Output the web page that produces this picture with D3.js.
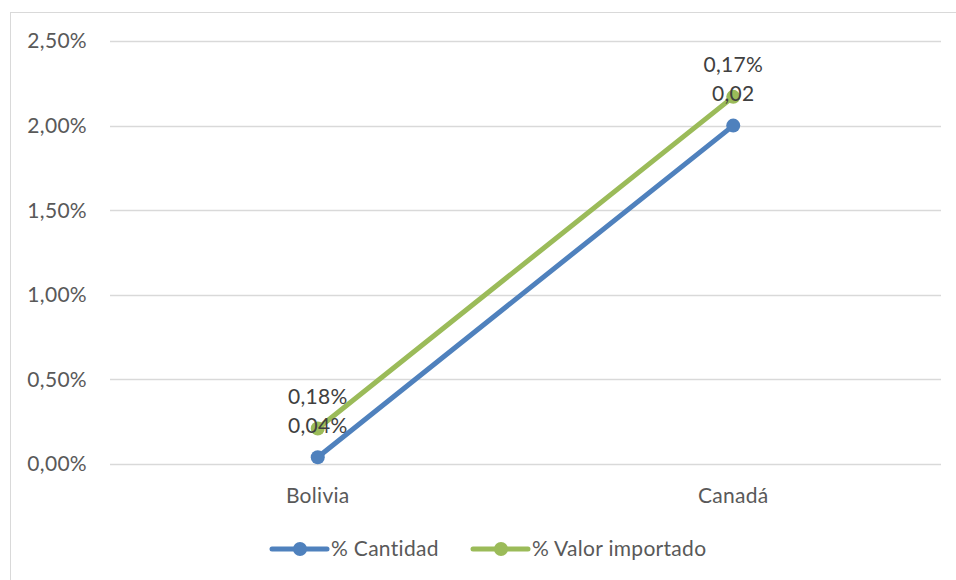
<html>
<head>
<meta charset="utf-8">
<script src="https://d3js.org/d3.v7.min.js"></script>
<style>
  body { margin: 0; background: #fff; }
  text { font-family: Lato, "Open Sans", sans-serif; letter-spacing: 0.3px; }
</style>
</head>
<body>
<script>
    // data
    let categories = ["Bolivia", "Canadá"];
    let seriesNames = ["% Cantidad", "% Valor importado"];
    let cantidad = [0.04, 2.00];
    let valorImportado = [0.21, 2.17];
    // the labels shown on the chart (as printed, they don't match the values)
    let labelsCantidad = ["0,04%", "0,02"];
    let labelsValor = ["0,18%", "0,17%"];
    let yTicks = [0, 0.5, 1.0, 1.5, 2.0, 2.5];

    let colors = ["#4f81bd", "#9bbb59"];

    let width = 956, height = 580;
    let plotLeft = 110, plotRight = 941, plotTop = 41, plotBottom = 464;

    let svg = d3.select("body").append("svg")
        .attr("width", width)
        .attr("height", height);

    // chart border
    svg.append("rect")
        .attr("x", 10.5)
        .attr("y", 12.5)
        .attr("width", 960)
        .attr("height", 600)
        .attr("fill", "none")
        .attr("stroke", "#d9d9d9");

    let x = d3.scalePoint()
        .domain(categories)
        .range([plotLeft, plotRight])
        .padding(0.5);

    let y = d3.scaleLinear()
        .domain([0, 2.5])
        .range([plotBottom, plotTop]);

    let fmt = v => v.toFixed(2).replace(".", ",") + "%";

    // gridlines + y labels
    yTicks.forEach(t => {
        svg.append("line")
            .attr("x1", plotLeft)
            .attr("x2", plotRight)
            .attr("y1", Math.round(y(t)) + 0.5)
            .attr("y2", Math.round(y(t)) + 0.5)
            .attr("stroke", "#d9d9d9")
            .attr("stroke-width", 1.3);
        svg.append("text")
            .attr("x", 87)
            .attr("y", y(t))
            .attr("dy", "0.35em")
            .attr("text-anchor", "end")
            .attr("fill", "#595959")
            .style("font-size", "21px")
            .text(fmt(t));
    });

    // x labels
    categories.forEach(c => {
        svg.append("text")
            .attr("x", x(c))
            .attr("y", 496)
            .attr("dy", "0.35em")
            .attr("text-anchor", "middle")
            .attr("fill", "#595959")
            .style("font-size", "21px")
            .text(c);
    });

    let line = d3.line()
        .x((d, i) => x(categories[i]))
        .y(d => y(d));

    let allSeries = [cantidad, valorImportado];
    allSeries.forEach((s, k) => {
        svg.append("path")
            .datum(s)
            .attr("d", line)
            .attr("fill", "none")
            .attr("stroke", colors[k])
            .attr("stroke-width", 5)
            .attr("stroke-linecap", "round");
        s.forEach((v, i) => {
            svg.append("circle")
                .attr("cx", x(categories[i]))
                .attr("cy", y(v))
                .attr("r", 7)
                .attr("fill", colors[k]);
        });
    });

    // data labels, placed above their point
    let allLabels = [labelsCantidad, labelsValor];
    allSeries.forEach((s, k) => {
        s.forEach((v, i) => {
            svg.append("text")
                .attr("x", x(categories[i]))
                .attr("y", y(v) - 32)
                .attr("dy", "0.35em")
                .attr("text-anchor", "middle")
                .attr("fill", "#404040")
                .style("font-size", "21px")
                .text(allLabels[k][i]);
        });
    });

    // legend
    let legendX = [272, 473];
    seriesNames.forEach((n, k) => {
        let g = svg.append("g").attr("transform", "translate(" + legendX[k] + ",549)");
        g.append("line")
            .attr("x1", 0).attr("x2", 55)
            .attr("stroke", colors[k])
            .attr("stroke-width", 5)
            .attr("stroke-linecap", "round");
        g.append("circle")
            .attr("cx", 28).attr("r", 7)
            .attr("fill", colors[k]);
        g.append("text")
            .attr("x", 59)
            .attr("dy", "0.35em")
            .attr("fill", "#595959")
            .style("font-size", "21px")
            .text(n);
    });
</script>
</body>
</html>
